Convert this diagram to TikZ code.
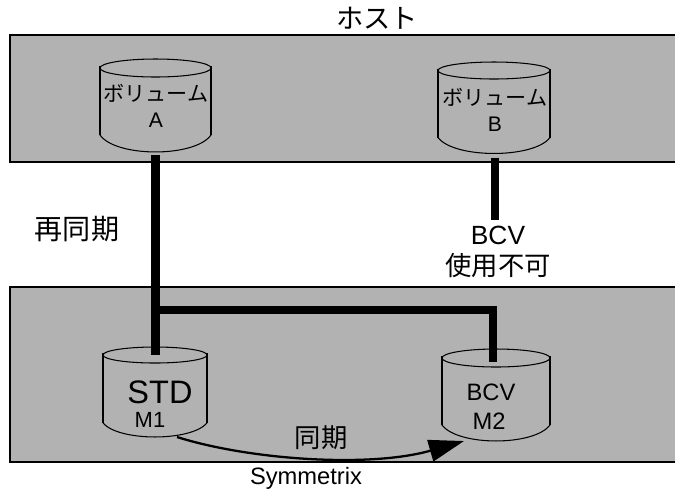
\documentclass[tikz,border=0pt]{standalone}
\usepackage{fontspec}
\setmainfont{Liberation Sans}
\newfontfamily\cjk{Noto Sans CJK JP}
\usetikzlibrary{arrows.meta, positioning}

\begin{document}
\begin{tikzpicture}[
  x=0.02cm, y=-0.02cm,
  band/.style={rectangle, draw=black, line width=1.15pt, fill=black!30, inner sep=0pt, outer sep=0pt, anchor=north west},
  drum/.style 2 args={rectangle, inner sep=0pt, outer sep=0pt, minimum width=#1*0.02cm, minimum height=#2*0.02cm},
  drumline/.style={draw=black, line width=0.6pt},
  conn/.style={line width=4.6pt},
  vollab/.style={font=\cjk\fontsize{12}{14.8}\selectfont, align=center},
  lab/.style={font=\cjk\fontsize{15}{17.4}\selectfont, align=center},
  sync/.style={-{Triangle[length=20pt, width=12.5pt]}, line width=1.3pt},
]
\useasboundingbox (0,0) rectangle (675,488);

%% bands
\node[band, minimum width=13.4cm, minimum height=2.55cm] (hostband) at (10,35) {};
\node[band, minimum width=13.4cm, minimum height=3.5cm] (symband) at (10,287) {};
\node[lab, font=\cjk\fontsize{15.5}{17}\selectfont] (hostlab) at (377,18) {ホスト};
\node[font=\fontsize{13.5}{15}\selectfont] (symlab) at (306,478.5) {Symmetrix};

%% volumes: node runs from the centre of the top ellipse to the lowest point
\node[drum={111}{84}] (volA) at (155.5,110) {};
\node[drum={112}{83}] (volB) at (494,112) {};
\node[drum={104}{82}] (std) at (155,396) {};
\node[drum={108}{83}] (bcv) at (496,399.5) {};

\foreach \nm/\rx/\ry/\bt in {volA/55.5/9/17, volB/56/8.5/16, std/52/8/14, bcv/54/9/16} {
  \draw[drumline] (\nm.north) ellipse [x radius=\rx, y radius=\ry];
  \draw[drumline, line width=0.85pt] ([shift={(0,-2)}]\nm.north west) -- ([shift={(0,-\bt)}]\nm.south west);
  \draw[drumline, line width=0.85pt] ([shift={(0,-2)}]\nm.north east) -- ([shift={(0,-\bt)}]\nm.south east);
  \draw[drumline] ([shift={(0,-\bt)}]\nm.south west)
     .. controls +(16,1.33*\bt) and +(-16,1.33*\bt) .. ([shift={(0,-\bt)}]\nm.south east);
}

%% texts in the volumes
\node[vollab] (volAlab) at (156,106) {ボリューム\\{\normalfont A}};
\node[vollab] (volBlab) at (495,110) {ボリューム\\{\normalfont B}};
\node[font=\fontsize{18.5}{20}\selectfont] (stdlab) at (160,392) {STD};
\node[font=\fontsize{12.5}{14}\selectfont] (mAlab) at (150,420) {M1};
\node[font=\fontsize{13.5}{15}\selectfont] (bcvlab) at (491,392) {BCV};
\node[font=\fontsize{13.5}{15}\selectfont] (mBlab) at (489,421) {M2};

%% side labels
\node[lab, font=\cjk\fontsize{16}{18}\selectfont] (resync) at (77,229) {再同期};
\node[lab] (unavail) at (498,252) {{\normalfont BCV}\\使用不可};
\node[lab] (synclab) at (321,438) {同期};

%% connectors
\coordinate (joint) at (155.5,310);
\coordinate (bcvend) at (495,220);
\draw[conn] ([yshift=-3*0.02cm]volA.south) -- ([xshift=0.5*0.02cm]std.north);
\draw[conn] (joint) -| ([shift={(-3,4)}]bcv.north);
\draw[conn] ([shift={(1,4)}]volB.south) -- (bcvend);
\draw[sync] (std.south -| 177,436) .. controls (250,460) and (370,468) .. (bcv.south -| 464,437);

\end{tikzpicture}
\end{document}
